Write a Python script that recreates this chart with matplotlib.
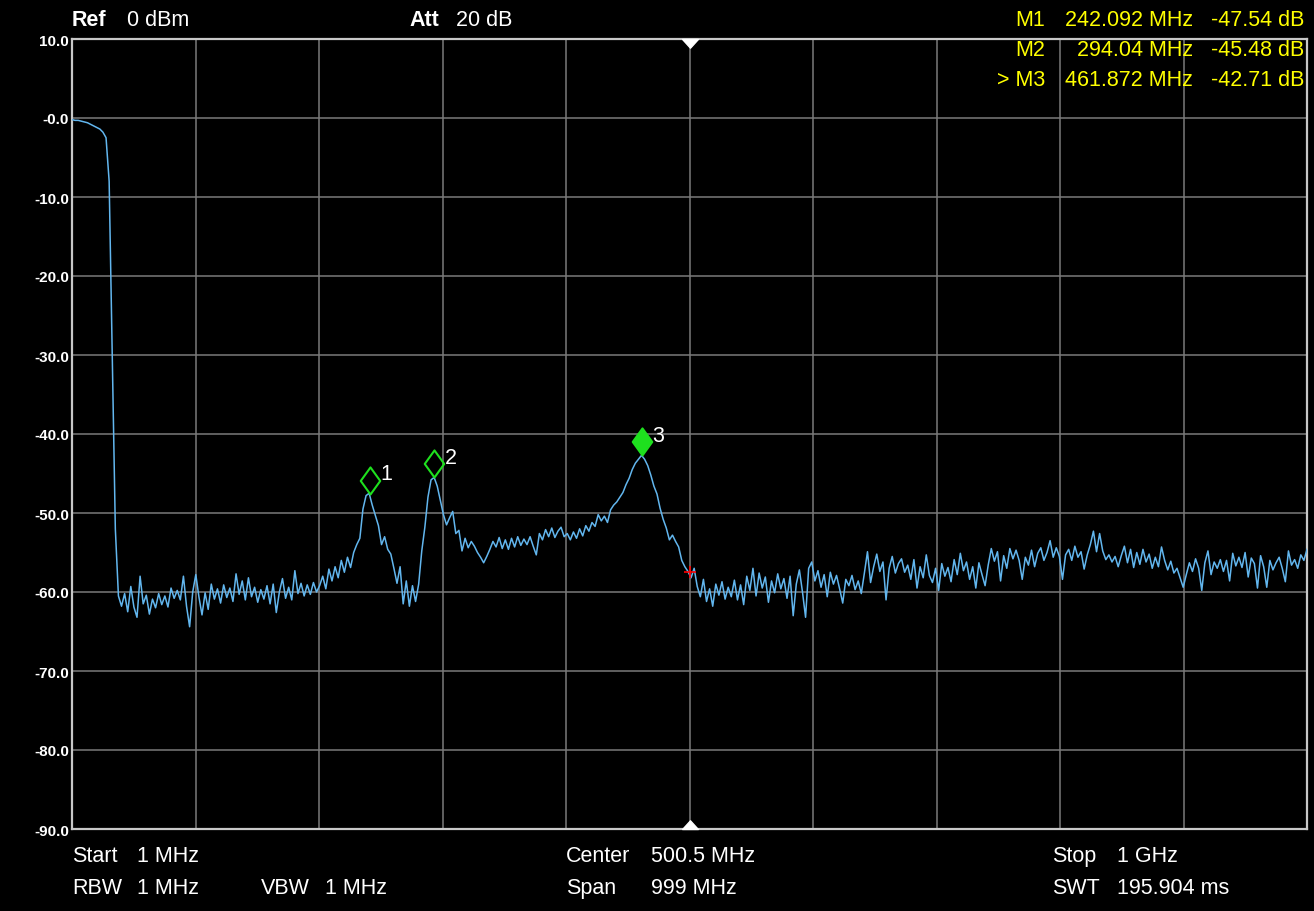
import numpy as np
import matplotlib
matplotlib.use("Agg")
import matplotlib.pyplot as plt
from matplotlib.path import Path

# ---------------- data ----------------
start_mhz = 1.0
stop_mhz = 1000.0
n_points = 400

trace_db = [
    -0.2, -0.3, -0.3, -0.4, -0.5, -0.6, -0.8, -1.0, -1.2, -1.4, -1.8, -2.5, -8.0, -30.0, -52.0, -60.5, -61.8, -60.2, -62.5, -59.3,
    -61.9, -63.2, -58.0, -61.5, -60.4, -62.8, -60.9, -62.0, -60.2, -61.6, -60.5, -61.9, -59.5, -60.8, -59.8, -61.0, -58.0, -61.8, -64.4, -60.0,
    -57.8, -60.6, -62.9, -60.1, -62.2, -59.0, -60.9, -59.6, -61.4, -59.1, -60.7, -59.5, -61.2, -57.7, -60.3, -58.6, -61.0, -58.2, -60.6, -59.4,
    -61.3, -59.7, -60.9, -59.2, -61.5, -59.0, -62.6, -60.0, -58.3, -60.8, -59.4, -61.0, -57.3, -60.2, -58.9, -60.5, -59.1, -60.3, -58.8, -60.0,
    -59.2, -58.0, -59.6, -57.1, -58.6, -56.8, -58.2, -56.0, -57.5, -55.6, -56.9, -55.0, -54.0, -53.2, -49.5, -47.8, -47.5, -49.0, -50.3, -51.6,
    -54.0, -53.0, -54.6, -55.2, -57.0, -58.9, -56.8, -61.5, -58.6, -61.8, -59.2, -61.2, -59.0, -54.8, -51.8, -48.0, -45.8, -45.5, -46.6, -48.4,
    -50.2, -51.5, -50.6, -49.8, -52.6, -52.2, -54.8, -53.2, -54.4, -53.6, -54.2, -55.0, -55.6, -56.3, -55.5, -54.6, -53.6, -54.3, -53.1, -54.5,
    -53.4, -54.6, -53.2, -54.3, -53.0, -54.1, -53.3, -54.0, -53.0, -54.2, -55.3, -52.6, -53.4, -52.1, -53.0, -51.9, -53.1, -52.3, -51.8, -53.0,
    -52.6, -53.4, -52.4, -53.2, -52.0, -52.9, -51.6, -52.3, -51.2, -51.7, -50.2, -51.0, -50.4, -51.2, -49.6, -49.0, -48.6, -48.0, -47.4, -46.4,
    -45.6, -44.5, -43.7, -43.2, -42.7, -43.2, -44.0, -45.2, -46.6, -47.6, -49.4, -50.8, -51.9, -53.4, -52.8, -53.6, -54.3, -56.0, -56.8, -57.4,
    -58.2, -57.0, -59.3, -60.6, -58.4, -61.2, -59.6, -61.8, -59.0, -60.4, -58.7, -60.9, -59.4, -60.6, -58.5, -61.0, -59.1, -61.6, -58.0, -59.8,
    -57.0, -60.5, -57.6, -59.5, -58.1, -61.3, -58.6, -60.1, -57.7, -59.6, -58.3, -60.8, -58.0, -63.0, -59.0, -57.2, -60.0, -63.2, -57.0, -56.2,
    -58.6, -57.3, -59.4, -57.8, -60.6, -57.5, -59.0, -57.9, -59.6, -61.4, -58.4, -59.2, -57.9, -59.7, -58.6, -60.2, -57.6, -54.9, -58.8, -56.8,
    -55.2, -57.4, -56.2, -61.0, -57.0, -55.5, -57.6, -56.4, -55.8, -57.5, -56.6, -58.4, -55.9, -59.5, -56.8, -58.2, -55.3, -57.9, -58.8, -57.0,
    -59.8, -56.4, -58.0, -56.9, -58.7, -55.9, -57.8, -55.1, -57.3, -56.2, -58.4, -56.8, -59.5, -56.3, -57.8, -59.2, -56.6, -54.5, -56.1, -54.9,
    -58.6, -55.4, -57.0, -54.5, -55.8, -54.7, -56.0, -58.4, -55.6, -56.6, -54.7, -56.8, -55.1, -54.4, -56.0, -55.0, -53.5, -55.6, -54.4, -55.5,
    -58.4, -55.3, -54.6, -56.0, -54.2, -55.6, -54.9, -57.1, -55.3, -54.0, -52.3, -54.9, -52.6, -54.8, -55.9, -55.3, -56.2, -55.5, -56.8, -55.4,
    -54.2, -56.3, -54.6, -56.9, -55.0, -56.5, -54.6, -56.2, -55.2, -57.0, -55.6, -56.8, -54.3, -56.0, -57.2, -56.1, -57.6, -57.0, -58.2, -59.4,
    -57.8, -56.3, -57.4, -55.8, -57.0, -59.8, -56.3, -54.8, -57.8, -56.2, -57.0, -55.9, -57.4, -56.0, -58.6, -55.1, -56.7, -55.6, -56.9, -55.0,
    -58.1, -55.7, -56.4, -59.5, -55.4, -56.8, -59.4, -56.0, -57.2, -56.3, -55.6, -57.0, -58.7, -54.8, -56.6, -55.9, -57.0, -55.3, -56.0, -54.6,
]

y_ticks = [10, 0, -10, -20, -30, -40, -50, -60, -70, -80, -90]
y_tick_labels = ["10.0", "-0.0", "-10.0", "-20.0", "-30.0", "-40.0",
                 "-50.0", "-60.0", "-70.0", "-80.0", "-90.0"]

marker_names = ["1", "2", "3"]
marker_freq = [242.092, 294.04, 461.872]
marker_level = [-47.54, -45.48, -42.71]
marker_active = [False, False, True]
readout_names = ["M1", "M2", "> M3"]
readout_freq = ["242.092 MHz", "294.04 MHz", "461.872 MHz"]
readout_level = ["-47.54 dB", "-45.48 dB", "-42.71 dB"]

center_mhz = 500.5
center_level = -57.5

header = [("Ref", "0 dBm"), ("Att", "20 dB")]
footer = [("Start", "1 MHz"), ("RBW", "1 MHz"), ("VBW", "1 MHz"),
          ("Center", "500.5 MHz"), ("Span", "999 MHz"),
          ("Stop", "1 GHz"), ("SWT", "195.904 ms")]

# ---------------- figure ----------------
W, H = 1314, 912
plt.rcParams["font.family"] = ["Liberation Sans", "DejaVu Sans"]
fig = plt.figure(figsize=(W / 100, H / 100), dpi=100, facecolor="black")

L, R, T, B = 72, 1307, 40, 830
ax = fig.add_axes([L / W, 1 - B / H, (R - L) / W, (B - T) / H])
ax.set_facecolor("black")

freq = np.linspace(start_mhz, stop_mhz, n_points)
ax.plot(freq, trace_db, color="#62b6ee", lw=1.1, zorder=3)

ax.set_xlim(start_mhz, stop_mhz)
ax.set_ylim(-90, 10)
ax.set_xticks(np.linspace(start_mhz, stop_mhz, 11))
ax.set_xticklabels([])
ax.set_yticks(y_ticks)
ax.set_yticklabels(y_tick_labels, color="white", fontsize=11, fontweight="bold")
ax.tick_params(axis="both", length=0, pad=2)
ax.grid(True, color="#7a7a7a", lw=1.1)
for s in ax.spines.values():
    s.set_color("#c8c8c8")
    s.set_linewidth(1.6)

# markers (diamond with bottom tip on the trace point)
diamond = Path([(0, 0), (0.36, 0.5), (0, 1), (-0.36, 0.5), (0, 0)],
               [Path.MOVETO, Path.LINETO, Path.LINETO, Path.LINETO, Path.CLOSEPOLY])
green = "#1ee01e"
for name, f, lev, act in zip(marker_names, marker_freq, marker_level, marker_active):
    ax.plot([f], [lev], marker=diamond, ms=39, mew=1.5, mec=green,
            mfc=green if act else "none", ls="none", zorder=5)
    ax.annotate(name, (f, lev), xytext=(7.5, 14.5), textcoords="offset points",
                color="white", fontsize=15.5, ha="left", va="center", zorder=6)

# center frequency markers
tri_down = Path([(-1, 0), (1, 0), (0, -1.1), (-1, 0)],
                [Path.MOVETO, Path.LINETO, Path.LINETO, Path.CLOSEPOLY])
tri_up = Path([(-1, 0), (1, 0), (0, 1.1), (-1, 0)],
              [Path.MOVETO, Path.LINETO, Path.LINETO, Path.CLOSEPOLY])
ax.plot([center_mhz], [10], marker=tri_down, ms=12.5, color="white", ls="none",
        clip_on=False, zorder=6)
ax.plot([center_mhz], [-90], marker=tri_up, ms=12.5, color="white", ls="none",
        clip_on=False, zorder=6)
ax.plot([center_mhz], [center_level], marker="+", ms=9, mew=1.2, color="red",
        ls="none", zorder=6)

def ftext(x, y, s, **kw):
    fig.text(x / W, 1 - y / H, s, va="center", color=kw.pop("color", "white"), **kw)

FS = 15.5
# header
ftext(72, 20, header[0][0], fontsize=FS, fontweight="bold")
ftext(127, 20, header[0][1], fontsize=FS)
ftext(409, 20, header[1][0], fontsize=FS, fontweight="bold")
ftext(456, 20, header[1][1], fontsize=FS)

# marker readouts
yellow = "#ffff00"
for k, (n, fr, lv) in enumerate(zip(readout_names, readout_freq, readout_level)):
    y = 20 + 30 * k
    ftext(1045, y, n, fontsize=FS, ha="right", color=yellow)
    ftext(1193, y, fr, fontsize=FS, ha="right", color=yellow)
    ftext(1304, y, lv, fontsize=FS, ha="right", color=yellow)

# footer
pos = [(72, 137, 857), (72, 137, 889), (261, 325, 889),
       (566, 651, 857), (566, 651, 889), (1052, 1117, 857), (1052, 1117, 889)]
for (lab, val), (xl, xv, y) in zip(footer, pos):
    ftext(xl, y, lab, fontsize=FS)
    ftext(xv, y, val, fontsize=FS)

fig.savefig("out.png", dpi=100, facecolor="black")
